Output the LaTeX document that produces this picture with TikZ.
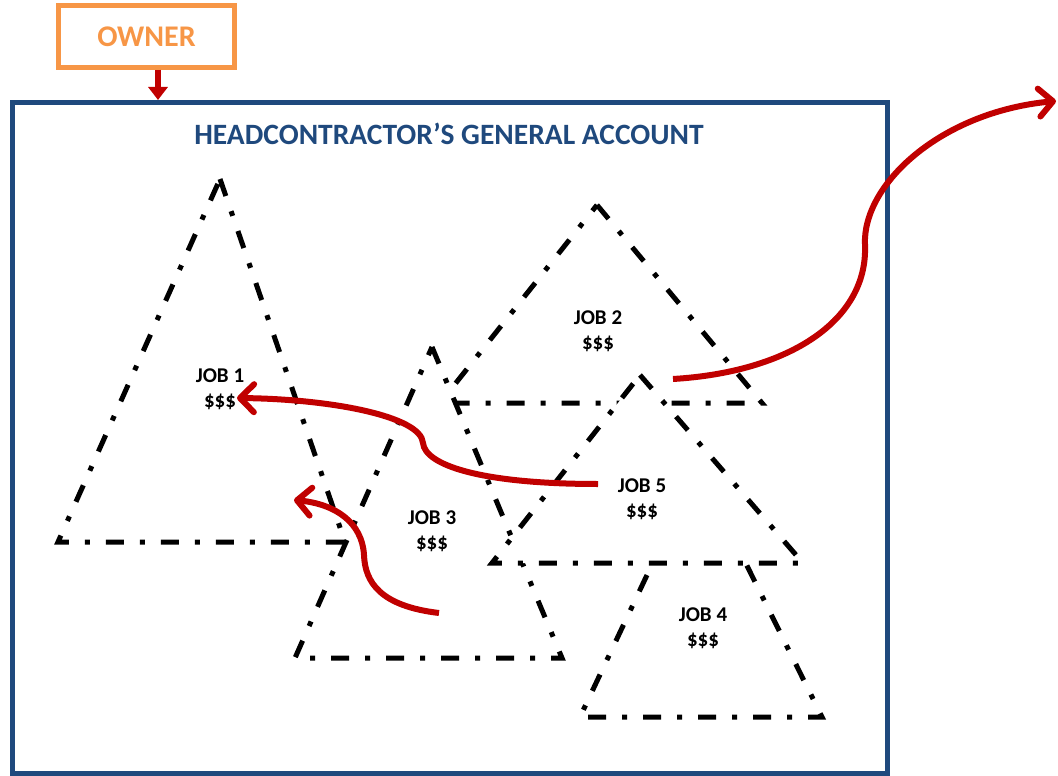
\documentclass[tikz,border=0pt]{standalone}
\usepackage{fontspec}
\setmainfont{Carlito}
\usetikzlibrary{arrows.meta}
\definecolor{frameblue}{HTML}{1F497D}
\definecolor{ownerorange}{HTML}{F79646}
\definecolor{flowred}{HTML}{C00000}
\begin{document}
\begin{tikzpicture}[x=1pt,y=-1pt,
  tri/.style={line width=5pt, dash pattern=on 18pt off 16pt on 5pt off 16pt},
  jobtext/.style={font=\fontsize{21}{25.5}\selectfont\bfseries, align=center, text=black},
  flow/.style={draw=flowred, line width=6pt, -{Straight Barb[length=14pt,width=28pt,round]}},
]
\useasboundingbox (0,0) rectangle (1058,776);
% frame
\draw[frameblue, line width=5pt] (12,102.5) rectangle (887,773);
\node[font=\fontsize{29.5}{32}\selectfont\bfseries, text=frameblue] (title) at (449,134) {HEADCONTRACTOR’S GENERAL ACCOUNT};
% owner
\node[draw=ownerorange, line width=5pt, minimum width=176pt, minimum height=61.5pt, inner sep=0pt,
      font=\fontsize{30}{32}\selectfont\bfseries, text=ownerorange] (owner) at (146.5,36.3) {OWNER};
\coordinate (ownerin) at (158,100);
\draw[flowred, line width=6pt, -{Triangle[length=13pt,width=19pt]}] (owner.south -| ownerin) -- (ownerin);
% triangles
\draw[tri] (220,179) -- (345,542) -- (58,542) -- cycle;
\draw[tri] (597,205) -- (762,403) -- (440,403) -- cycle;
\draw[tri, fill=white] (432,347) -- (562,658) -- (295,658) -- cycle;
\draw[tri] (698,467) -- (822,717) -- (580,717) -- cycle;
\draw[tri, fill=white] (640,375) -- (803,563) -- (492,563) -- cycle;
% labels
\node[jobtext] (job1) at (220,389) {JOB 1\\\$\$\$};
\node[jobtext] (job2) at (598,331) {JOB 2\\\$\$\$};
\node[jobtext] (job3) at (432,531) {JOB 3\\\$\$\$};
\node[jobtext] (job4) at (703,628) {JOB 4\\\$\$\$};
\node[jobtext] (job5) at (642,499) {JOB 5\\\$\$\$};
% flows
\coordinate (s2) at (673,379);
\coordinate (out) at (1056,101);
\draw[flow] (s2) .. controls (790,372) and (868,320) .. (865,245)
               .. controls (862,185) and (940,112) .. (out);
\coordinate (s5) at (598,484);
\coordinate (t1) at (237,398);
\draw[flow] (s5) .. controls (480,484) and (425,465) .. (423,443)
               .. controls (421,416) and (330,399) .. (t1);
\coordinate (s3) at (439,613);
\coordinate (t3) at (294,500);
\draw[flow] (s3) .. controls (380,606) and (365,582) .. (364,555)
               .. controls (362,522) and (335,504) .. (t3);
\end{tikzpicture}
\end{document}
